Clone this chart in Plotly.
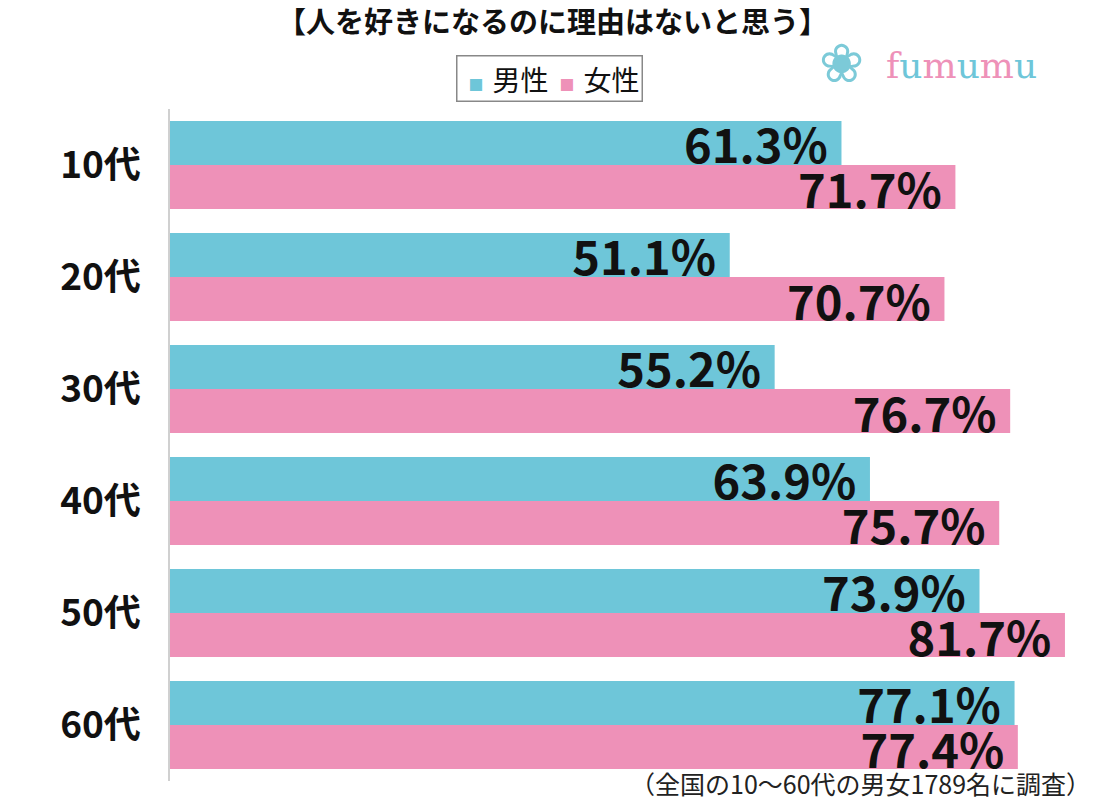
import plotly.graph_objects as go

categories = ["10代", "20代", "30代", "40代", "50代", "60代"]
male = [61.3, 51.1, 55.2, 63.9, 73.9, 77.1]
female = [71.7, 70.7, 76.7, 75.7, 81.7, 77.4]
series_names = ["男性", "女性"]
title_text = "【人を好きになるのに理由はないと思う】"
note_text = "（全国の10〜60代の男女1789名に調査）"

BLUE = "#6EC6D9"
PINK = "#EE91B8"
FONT = "Noto Sans CJK JP"

PLOT_L, PLOT_R, PLOT_T, PLOT_B = 170, 1100, 109, 781
W, H = 1102, 800


def px_x(x):
    return (x - PLOT_L) / (PLOT_R - PLOT_L)


def px_y(y):
    return (PLOT_B - y) / (PLOT_B - PLOT_T)


fig = go.Figure()
for name, vals, col in [(series_names[0], male, BLUE), (series_names[1], female, PINK)]:
    fig.add_trace(go.Bar(
        y=categories, x=vals, name=name, orientation="h",
        marker=dict(color=col, line=dict(width=0)),
        text=[f"{v:.1f}%\u00a0" for v in vals],
        textposition="inside", insidetextanchor="end",
        constraintext="none",
        textfont=dict(family=FONT, size=47, color="#111111", weight="bold"),
        cliponaxis=False, showlegend=False,
    ))

fig.update_layout(
    width=W, height=H,
    margin=dict(l=PLOT_L, r=W - PLOT_R, t=PLOT_T, b=H - PLOT_B, autoexpand=False),
    paper_bgcolor="white", plot_bgcolor="white",
    barmode="group", bargap=0.214, bargroupgap=0,
    showlegend=False,
    xaxis=dict(range=[0, 84.9], visible=False, fixedrange=True),
    yaxis=dict(autorange="reversed", showline=True, linecolor="#d0d0d0", linewidth=1.5,
               showgrid=False, ticks="", ticklabelstandoff=20,
               tickfont=dict(family=FONT, size=37, color="#111111", weight="bold")),
    font=dict(family=FONT),
)

# title
fig.add_annotation(text=title_text, xref="paper", yref="paper", x=px_x(552), xanchor="center",
                   y=px_y(20), yanchor="middle", showarrow=False,
                   font=dict(family=FONT, size=29, color="#111111", weight="bold"))

# legend (boxed)
sp = "<span style='font-size:18px'>\u2002</span>"
sp2 = "<span style='font-size:22px'>\u2002</span>"
leg = (f"{sp}<span style='font-size:15px;color:{BLUE}'>■</span>{sp}{series_names[0]}{sp2}"
       f"<span style='font-size:15px;color:{PINK}'>■</span>{sp}{series_names[1]}")
fig.add_annotation(text=leg, xref="paper", yref="paper", x=px_x(549), xanchor="center",
                   y=px_y(79), yanchor="middle", showarrow=False,
                   bordercolor="#888888", borderwidth=1.5, borderpad=2, bgcolor="white",
                   font=dict(family=FONT, size=28, color="#111111"))

# note
fig.add_annotation(text=note_text, xref="paper", yref="paper", x=px_x(1093), xanchor="right",
                   y=px_y(783), yanchor="middle", showarrow=False,
                   font=dict(family=FONT, size=25, color="#222222"))

# logo
logo = (f"<span style='color:{PINK}'>f</span><span style='color:{BLUE}'>u</span>"
        f"<span style='color:{PINK}'>m</span><span style='color:{BLUE}'>u</span>"
        f"<span style='color:{PINK}'>m</span><span style='color:{BLUE}'>u</span>")
fig.add_annotation(text=logo, xref="paper", yref="paper", x=px_x(884), xanchor="left",
                   y=px_y(66), yanchor="middle", showarrow=False,
                   font=dict(family="DejaVu Serif", size=36))
fig.add_annotation(text="❀", xref="paper", yref="paper", x=px_x(841), xanchor="center",
                   y=px_y(63), yanchor="middle", showarrow=False,
                   font=dict(family="DejaVu Sans", size=54, color="#7CCAD8"))

fig.write_html("out.html", config={"displayModeBar": False},
               post_script="document.body.style.margin='0px';")
